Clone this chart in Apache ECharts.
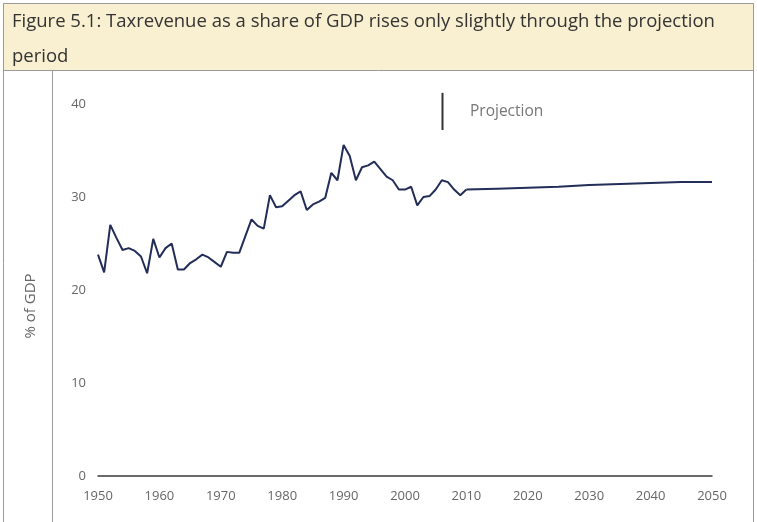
<!DOCTYPE html>
<html>
<head>
<meta charset="utf-8">
<script src="https://cdn.jsdelivr.net/npm/echarts@6/dist/echarts.min.js"></script>
<style>
html,body{margin:0;padding:0;background:#fff;}
#c{width:757px;height:522px;}
</style>
</head>
<body>
<div id="c"></div>
<script>
var titleLines = ['Figure 5.1: Taxrevenue as a share of GDP rises only slightly through the projection', 'period'];
var yAxisName = '% of GDP';
var projectionLabel = 'Projection';
var projectionStartYear = 2006;
var projectionMarkRange = [37.2, 41.2];

var histYears = [1950,1951,1952,1953,1954,1955,1956,1957,1958,1959,
  1960,1961,1962,1963,1964,1965,1966,1967,1968,1969,
  1970,1971,1972,1973,1974,1975,1976,1977,1978,1979,
  1980,1981,1982,1983,1984,1985,1986,1987,1988,1989,
  1990,1991,1992,1993,1994,1995,1996,1997,1998,1999,
  2000,2001,2002,2003,2004,2005,2006,2007,2008,2009,2010];
var histValues = [23.8,21.9,27.0,25.6,24.3,24.5,24.2,23.6,21.8,25.5,
  23.5,24.5,25.0,22.2,22.2,22.9,23.3,23.8,23.5,23.0,
  22.5,24.1,24.0,24.0,25.8,27.6,26.9,26.6,30.2,28.9,
  29.0,29.6,30.2,30.6,28.6,29.2,29.5,29.9,32.6,31.8,
  35.6,34.4,31.8,33.2,33.4,33.8,33.0,32.2,31.8,30.8,
  30.8,31.1,29.1,30.0,30.1,30.8,31.8,31.6,30.8,30.2,30.8];
var projYears = [2010,2015,2020,2025,2030,2035,2040,2045,2050];
var projValues = [30.8,30.9,31.0,31.1,31.3,31.4,31.5,31.6,31.6];
var yTicks = [0,10,20,30,40];
var xTicks = [1950,1960,1970,1980,1990,2000,2010,2020,2030,2040,2050];

function pairs(xs, ys){ return xs.map(function(x,i){ return [x, ys[i]]; }); }

var chart = echarts.init(document.getElementById('c'), null, {renderer:'canvas'});
var lineColor = '#222d58';
var font = '"Open Sans", "DejaVu Sans", sans-serif';

chart.setOption({
  animation:false,
  backgroundColor:'#ffffff',
  grid:{left:98, right:45, top:104, bottom:46},
  xAxis:{
    type:'value', min:xTicks[0], max:xTicks[xTicks.length-1], interval:10,
    axisLine:{show:true, onZero:true, lineStyle:{color:'#3a3a3a', width:1.5}},
    axisTick:{show:false},
    splitLine:{show:false},
    axisLabel:{color:'#666', fontSize:13, fontFamily:font, margin:14, formatter:function(v){ return String(v); }}
  },
  yAxis:{
    type:'value', min:yTicks[0], max:yTicks[yTicks.length-1], interval:10,
    axisLine:{show:false}, axisTick:{show:false}, splitLine:{show:false},
    axisLabel:{color:'#666', fontSize:13, fontFamily:font, margin:12}
  },
  series:[
    {type:'line', data:pairs(histYears, histValues), symbol:'none',
     lineStyle:{color:lineColor, width:2}, z:3},
    {type:'line', data:pairs(projYears, projValues), symbol:'none',
     lineStyle:{color:lineColor, width:2}, z:3}
  ]
});

var pTop = chart.convertToPixel({gridIndex:0}, [projectionStartYear, projectionMarkRange[1]]);
var pBot = chart.convertToPixel({gridIndex:0}, [projectionStartYear, projectionMarkRange[0]]);

chart.setOption({
  graphic:[
    {type:'rect', shape:{x:3.5, y:3.5, width:750, height:530}, style:{fill:'none', stroke:'#9a9a9a', lineWidth:1}, z:-1},
    {type:'rect', shape:{x:3.5, y:3.5, width:750, height:67}, style:{fill:'#f8f0d0', stroke:'#9a9a9a', lineWidth:1}, z:0},
    {type:'line', shape:{x1:52.5, y1:70, x2:52.5, y2:522}, style:{stroke:'#9a9a9a', lineWidth:1}},
    {type:'text', x:12, y:22, style:{text:titleLines[0], fill:'#333', font:'18.5px ' + font, verticalAlign:'middle'}},
    {type:'text', x:12, y:57, style:{text:titleLines[1], fill:'#333', font:'18.5px ' + font, verticalAlign:'middle'}},
    {type:'text', x:31, y:306, rotation:Math.PI/2, style:{text:yAxisName, fill:'#666', font:'15px ' + font, align:'center', verticalAlign:'middle'}},
    {type:'line', shape:{x1:Math.round(pTop[0])+0.5, y1:pTop[1], x2:Math.round(pTop[0])+0.5, y2:pBot[1]}, style:{stroke:'#333', lineWidth:2}},
    {type:'text', x:470, y:112, style:{text:projectionLabel, fill:'#777', font:'15.5px ' + font, verticalAlign:'middle'}}
  ]
});
</script>
</body>
</html>
